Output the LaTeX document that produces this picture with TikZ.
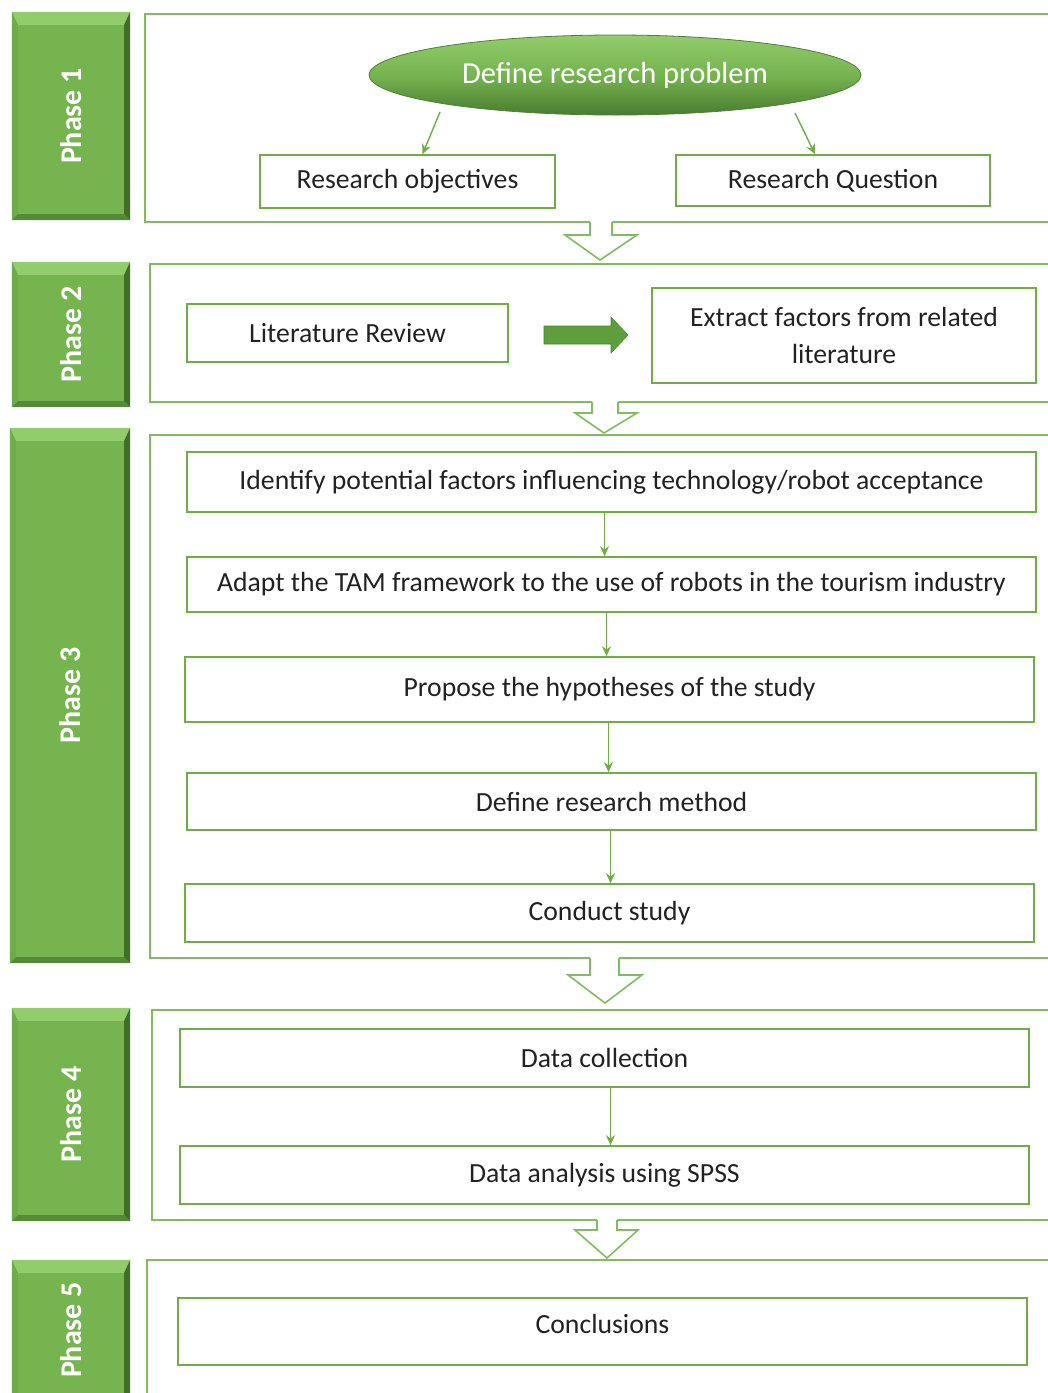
\documentclass[tikz,border=0pt]{standalone}
\usepackage{fontspec}
\setmainfont{Carlito}
\usetikzlibrary{shapes.geometric,arrows.meta,calc}
\definecolor{boxline}{HTML}{70AD47}
\definecolor{panelline}{HTML}{82BC60}
\definecolor{tabgreen}{HTML}{76B450}
\definecolor{tablight}{HTML}{92CC6C}
\definecolor{tabdark}{HTML}{3F6E27}
\definecolor{tabbottom}{HTML}{57893A}
\definecolor{tableft}{HTML}{6EAB4A}
\definecolor{txt}{HTML}{222222}
\definecolor{bigarrow}{HTML}{5E9E3C}
\definecolor{bigarrowedge}{HTML}{4B8530}
\tikzset{
  box/.style={draw=boxline, line width=1.6pt, fill=white, text=txt, inner sep=2pt,
    font=\fontsize{27.7}{37}\selectfont, align=center},
  panel/.style={draw=panelline, line width=1.8pt},
  tab/.style={fill=tabgreen, inner sep=0pt, text=white, font=\fontsize{30}{34}\selectfont\bfseries},
  arr/.style={draw=boxline, line width=1.4pt, -{Stealth[length=10pt,width=9pt]}},
  hollow/.style={draw=panelline, line width=1.6pt, line join=miter},
}
% bevelled edges of a phase tab
\newcommand\tabbevel[1]{%
  \fill[tablight] (#1.north west) -- (#1.north east) -- ([shift={(-6,13)}]#1.north east) -- ([shift={(6,13)}]#1.north west) -- cycle;
  \fill[tableft] (#1.north west) -- ([shift={(6,13)}]#1.north west) -- ([shift={(6,-6)}]#1.south west) -- (#1.south west) -- cycle;
  \fill[tabdark] (#1.north east) -- (#1.south east) -- ([shift={(-6,-6)}]#1.south east) -- ([shift={(-6,13)}]#1.north east) -- cycle;
  \fill[tabbottom] (#1.south west) -- (#1.south east) -- ([shift={(-6,-6)}]#1.south east) -- ([shift={(6,-6)}]#1.south west) -- cycle;
}
% hollow down arrow: shaft left/right, wing left/right, line y, wing y, tip x, tip y
\newcommand\hollowarrow[8]{%
  \fill[white] (#1,#5-2) -- (#1,#6) -- (#3,#6) -- (#7,#8) -- (#4,#6) -- (#2,#6) -- (#2,#5-2) -- cycle;
  \draw[hollow] (#1,#5) -- (#1,#6) -- (#3,#6) -- (#7,#8) -- (#4,#6) -- (#2,#6) -- (#2,#5);
}
\begin{document}
\begin{tikzpicture}[x=1pt,y=-1pt]
\clip (0,0) rectangle (1048,1393);
\fill[white] (0,0) rectangle (1048,1393);

% phase panels
\draw[panel] (145,14) rectangle (1070,222);
\draw[panel] (150,264) rectangle (1070,402);
\draw[panel] (150,435) rectangle (1070,958);
\draw[panel] (152,1010) rectangle (1070,1220);
\draw[panel] (147,1260) rectangle (1070,1420);

% phase tabs
\node[tab, minimum width=118, minimum height=208] (t1) at (71,116) {};
\node[tab, minimum width=118, minimum height=145] (t2) at (71,334.5) {};
\node[tab, minimum width=120, minimum height=535] (t3) at (70,695.5) {};
\node[tab, minimum width=118, minimum height=213] (t4) at (71,1114.5) {};
\node[tab, minimum width=118, minimum height=150] (t5) at (71,1335) {};
\tabbevel{t1}\tabbevel{t2}\tabbevel{t3}\tabbevel{t4}\tabbevel{t5}
\node[tab, fill=none] (l1) at (t1) {\rotatebox{90}{Phase 1}};
\node[tab, fill=none] (l2) at (t2) {\rotatebox{90}{Phase 2}};
\node[tab, fill=none] (l3) at (t3) {\rotatebox{90}{Phase 3}};
\node[tab, fill=none] (l4) at (t4) {\rotatebox{90}{Phase 4}};
\node[tab, fill=none] (l5) at (71,1330) {\rotatebox{90}{Phase 5}};

% phase 1
\node[ellipse, minimum width=492, minimum height=80, inner sep=0pt,
  top color=tablight, bottom color=tabdark!80!tabgreen, middle color=tabgreen,
  draw=tabgreen!70!black, line width=0.8pt, text=white,
  font=\fontsize{30.5}{34}\selectfont] (def) at (615,75) {Define research problem};
\node[box, minimum width=295, minimum height=53] (robj) at (407.5,181.5) {Research objectives};
\node[box, minimum width=314, minimum height=51] (rq) at (833,180.5) {Research Question};
\draw[arr] ([shift={(-175,37)}]def.center) -- ([xshift=15pt]robj.north);
\draw[arr] ([shift={(180,38)}]def.center) -- ([xshift=-18pt]rq.north);

% phase 2
\node[box, minimum width=321, minimum height=58] (lit) at (347.5,333) {Literature Review};
\node[box, minimum width=384, minimum height=95] (ext) at (844,335.5) {Extract factors from related\\literature};
\fill[bigarrow, draw=bigarrowedge, line width=0.6pt]
  (544,326) -- (611,326) -- (611,317) -- (628,335) -- (611,353) -- (611,344) -- (544,344) -- cycle;

% phase 3
\node[box, minimum width=849, minimum height=60] (idf) at (611.5,482) {Identify potential factors influencing technology/robot acceptance};
\node[box, minimum width=849, minimum height=55] (adp) at (611.5,584.5) {Adapt the TAM framework to the use of robots in the tourism industry};
\node[box, minimum width=849, minimum height=65] (prp) at (609.5,689.5) {Propose the hypotheses of the study};
\node[box, minimum width=849, minimum height=57] (mth) at (611.5,801.5) {Define research method};
\node[box, minimum width=849, minimum height=58] (cnd) at (609.5,913) {Conduct study};
\draw[arr] ([xshift=-7pt]idf.south) -- ([xshift=-7pt]adp.north);
\draw[arr] ([xshift=-5pt]adp.south) -- ([xshift=-3pt]prp.north);
\draw[arr] ([xshift=-1pt]prp.south) -- ([xshift=-3pt]mth.north);
\draw[arr] ([xshift=-1pt]mth.south) -- ([xshift=1pt]cnd.north);

% phase 4
\node[box, minimum width=849, minimum height=58] (dcol) at (604.5,1058) {Data collection};
\node[box, minimum width=849, minimum height=58] (dana) at (604.5,1175) {Data analysis using SPSS};
\draw[arr] ([xshift=6pt]dcol.south) -- ([xshift=6pt]dana.north);

% phase 5
\node[box, minimum width=849, minimum height=67] (conc) at (602.5,1331.5) {\raisebox{8pt}[\height][\depth]{Conclusions}};

% hollow arrows between phases
\hollowarrow{590}{612}{565}{637}{222}{235}{600}{260}
\hollowarrow{592}{618}{575}{637}{402}{413}{604}{433}
\hollowarrow{590}{619}{568}{642}{958}{975}{605}{1003}
\hollowarrow{597}{617}{575}{638}{1220}{1230}{607}{1258}
\end{tikzpicture}
\end{document}
